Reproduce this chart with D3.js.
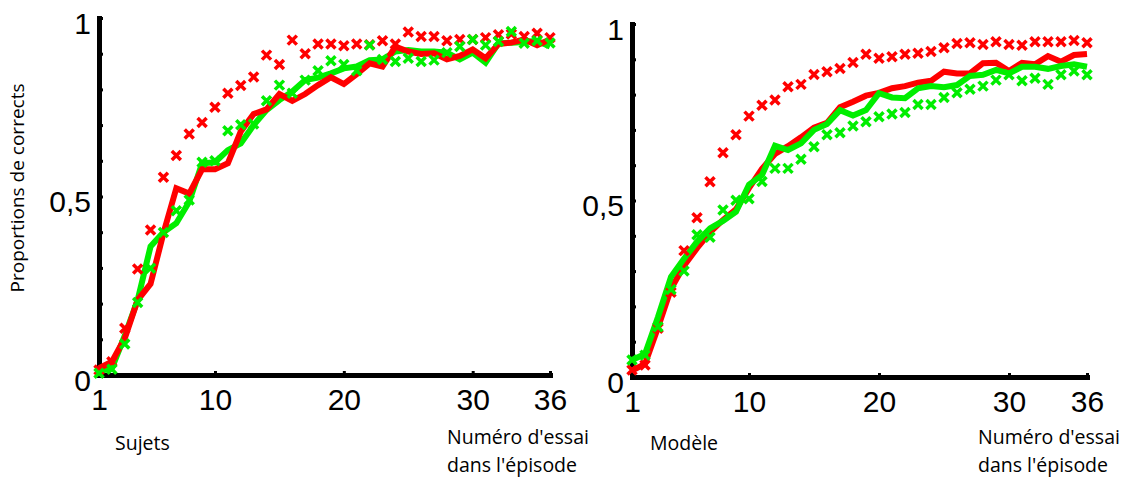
<!DOCTYPE html>
<html>
<head>
<meta charset="utf-8">
<script src="https://cdn.jsdelivr.net/npm/d3@7"></script>
<style>
  html, body { margin: 0; padding: 0; background: #fff; }
  svg { display: block; }
  .tick text { font-family: "Liberation Sans", Arial, sans-serif; font-size: 30px; fill: #000; }
  .lbl { font-family: "Open Sans", "Noto Sans", sans-serif; font-size: 19.5px; fill: #000; }
</style>
</head>
<body>
<svg id="chart" width="1131" height="477"></svg>
<script>
// Trial numbers within an episode
const trials = [1,2,3,4,5,6,7,8,9,10,11,12,13,14,15,16,17,18,19,20,21,22,23,24,25,26,27,28,29,30,31,32,33,34,35,36];
const xTicks = [1, 10, 20, 30, 36];
const yTicks = [0, 0.1, 0.2, 0.3, 0.4, 0.5, 0.6, 0.7, 0.8, 0.9, 1];
const yTickLabels = { 0: "0", 0.5: "0,5", 1: "1" };

// Subjects ("Sujets")
const sujetsRedLine = [0.019,0.037,0.103,0.21,0.255,0.397,0.523,0.508,0.576,0.576,0.593,0.682,0.731,0.744,0.787,0.768,0.787,0.812,0.834,0.815,0.843,0.873,0.864,0.92,0.906,0.899,0.901,0.884,0.894,0.912,0.887,0.927,0.931,0.94,0.924,0.94];
const sujetsGreenLine = [0.01,0.019,0.11,0.21,0.36,0.40,0.425,0.485,0.593,0.596,0.63,0.649,0.70,0.742,0.77,0.794,0.826,0.833,0.845,0.859,0.864,0.882,0.884,0.906,0.91,0.906,0.906,0.903,0.884,0.903,0.875,0.929,0.931,0.933,0.936,0.92];
const sujetsRedMarks = [0.014,0.037,0.131,0.297,0.406,0.554,0.615,0.675,0.707,0.75,0.789,0.811,0.835,0.896,0.870,0.938,0.90,0.927,0.927,0.922,0.927,0.925,0.936,0.927,0.961,0.948,0.948,0.936,0.94,0.94,0.945,0.953,0.955,0.948,0.957,0.945];
const sujetsGreenMarks = [0.005,0.016,0.087,0.203,0.299,0.399,0.46,0.49,0.596,0.60,0.684,0.701,0.703,0.768,0.812,0.789,0.826,0.852,0.88,0.87,0.852,0.924,0.884,0.878,0.887,0.878,0.882,0.903,0.92,0.94,0.924,0.934,0.962,0.929,0.936,0.93];

// Model ("Modèle")
const modeleRedLine = [0.018,0.037,0.14,0.25,0.315,0.365,0.41,0.445,0.475,0.535,0.59,0.632,0.654,0.679,0.706,0.72,0.764,0.78,0.797,0.805,0.818,0.824,0.834,0.839,0.865,0.86,0.86,0.889,0.89,0.867,0.89,0.886,0.909,0.893,0.912,0.915];
const modeleGreenLine = [0.048,0.065,0.17,0.284,0.335,0.383,0.421,0.442,0.468,0.545,0.572,0.655,0.643,0.662,0.70,0.717,0.756,0.741,0.756,0.804,0.792,0.79,0.818,0.824,0.821,0.827,0.853,0.856,0.87,0.86,0.879,0.879,0.873,0.881,0.886,0.879];
const modeleRedMarks = [0.02,0.034,0.138,0.24,0.358,0.451,0.553,0.635,0.686,0.739,0.77,0.785,0.822,0.829,0.857,0.865,0.874,0.891,0.914,0.903,0.907,0.914,0.917,0.922,0.933,0.945,0.947,0.942,0.95,0.942,0.94,0.95,0.95,0.95,0.953,0.947];
const modeleGreenMarks = [0.048,0.062,0.142,0.248,0.3,0.403,0.396,0.473,0.501,0.505,0.554,0.591,0.591,0.617,0.652,0.686,0.692,0.711,0.723,0.737,0.745,0.749,0.772,0.772,0.792,0.805,0.815,0.824,0.841,0.856,0.839,0.846,0.829,0.856,0.867,0.856];

const RED = "#ff0000";
const GREEN = "#00ee00";

const svg = d3.select("#chart");

const panels = [
  {
    title: "Sujets", xRange: [99, 550], yRange: [375, 18], titleX: 115, xLabelX: 447,
    lines: [[sujetsGreenLine, GREEN], [sujetsRedLine, RED]],
    marks: [[sujetsRedMarks, RED], [sujetsGreenMarks, GREEN]],
    yTitle: true
  },
  {
    title: "Modèle", xRange: [632, 1087], yRange: [377, 24], titleX: 650, xLabelX: 978,
    lines: [[modeleRedLine, RED], [modeleGreenLine, GREEN]],
    marks: [[modeleRedMarks, RED], [modeleGreenMarks, GREEN]],
    yTitle: false
  }
];

const crossPath = "M-4.5,-4.5L4.5,4.5M-4.5,4.5L4.5,-4.5";

panels.forEach(p => {
  const x = d3.scaleLinear().domain([1, 36]).range(p.xRange);
  const y = d3.scaleLinear().domain([0, 1]).range(p.yRange);
  const g = svg.append("g");

  // axes: thick domain line, short inward ticks
  const yAxis = d3.axisLeft(y)
    .tickValues(yTicks)
    .tickFormat(d => yTickLabels[Math.round(d * 10) / 10] || "")
    .tickSizeInner(-4).tickSizeOuter(0).tickPadding(8);
  const xAxis = d3.axisBottom(x)
    .tickValues(xTicks)
    .tickFormat(d3.format("d"))
    .tickSizeInner(-4).tickSizeOuter(0).tickPadding(14);

  const ya = g.append("g").attr("transform", `translate(${p.xRange[0]},0)`).call(yAxis);
  const xa = g.append("g").attr("transform", `translate(0,${p.yRange[0]})`).call(xAxis);

  [ya, xa].forEach(a => {
    a.select(".domain").attr("stroke", "#000").attr("stroke-width", 5).attr("stroke-linecap", "square");
    a.selectAll(".tick line").attr("stroke", "#000").attr("stroke-width", 3);
  });
  ya.selectAll(".tick text").attr("dy", "0.5em");

  // series lines
  const line = d3.line().x((d, i) => x(trials[i])).y(d => y(d));
  p.lines.forEach(([vals, col]) => {
    g.append("path").datum(vals)
      .attr("d", line)
      .attr("fill", "none")
      .attr("stroke", col)
      .attr("stroke-width", 6)
      .attr("stroke-linejoin", "miter");
  });

  // cross markers
  p.marks.forEach(([vals, col]) => {
    g.selectAll(null).data(vals).enter().append("path")
      .attr("d", crossPath)
      .attr("transform", (d, i) => `translate(${x(trials[i])},${y(d)})`)
      .attr("fill", "none")
      .attr("stroke", col)
      .attr("stroke-width", 3.5);
  });

  // panel captions
  g.append("text").attr("class", "lbl").attr("x", p.titleX).attr("y", 450).text(p.title);
  g.append("text").attr("class", "lbl").attr("x", p.xLabelX).attr("y", 444).text("Numéro d'essai");
  g.append("text").attr("class", "lbl").attr("x", p.xLabelX).attr("y", 472).text("dans l'épisode");

  if (p.yTitle) {
    svg.append("text").attr("class", "lbl")
      .attr("transform", "translate(24,188) rotate(-90)")
      .attr("text-anchor", "middle")
      .style("font-size", "19px")
      .text("Proportions de corrects");
  }
});
</script>
</body>
</html>
